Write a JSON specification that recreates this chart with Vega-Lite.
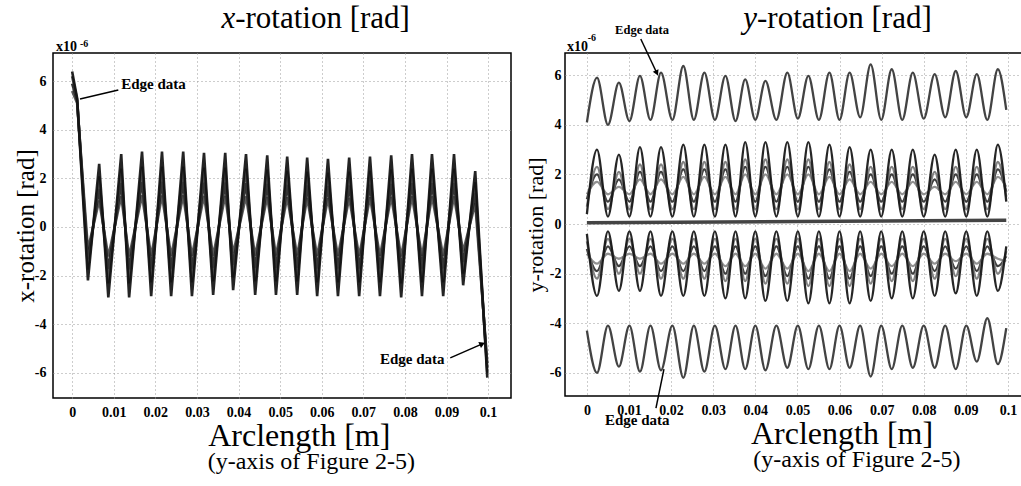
{
  "$schema": "https://vega.github.io/schema/vega-lite/v6.json",
  "background": "white",
  "padding": {"left": 12, "top": 2, "right": 0, "bottom": 0},
  "spacing": 11,
  "config": {
    "font": "Liberation Serif",
    "view": {"stroke": "black", "strokeWidth": 1.5},
    "axis": {
      "grid": true, "gridColor": "#9a9a9a", "gridDash": [1, 3], "gridWidth": 1,
      "ticks": false, "domain": false,
      "labelFont": "Liberation Serif", "labelFontWeight": "bold", "labelFontSize": 14, "labelColor": "black",
      "labelPadding": 7,
      "titleFont": "Liberation Serif", "titleFontWeight": "normal", "titleColor": "black"
    },
    "text": {"font": "Liberation Serif", "color": "black"}
  },
  "resolve": {"scale": {"color": "independent"}},
  "datasets": {
    "left": [
      {"x": 0, "a": 6.4, "b": 6.2, "c": 5.9, "d": 5.6},
      {"x": 0.0012, "a": 5.3, "b": 5.25, "c": 5.2, "d": 5.1},
      {"x": 0.0038, "a": -2.2, "b": -1.76, "c": -1.32, "d": -0.92},
      {"x": 0.0065, "a": 2.6, "b": 2.08, "c": 1.56, "d": 1.09},
      {"x": 0.0087, "a": -2.9, "b": -2.32, "c": -1.74, "d": -1.22},
      {"x": 0.0118, "a": 3.0, "b": 2.4, "c": 1.8, "d": 1.26},
      {"x": 0.0137, "a": -2.9, "b": -2.32, "c": -1.74, "d": -1.22},
      {"x": 0.0168, "a": 3.1, "b": 2.48, "c": 1.86, "d": 1.3},
      {"x": 0.019, "a": -2.85, "b": -2.28, "c": -1.71, "d": -1.2},
      {"x": 0.0216, "a": 3.1, "b": 2.48, "c": 1.86, "d": 1.3},
      {"x": 0.0238, "a": -2.85, "b": -2.28, "c": -1.71, "d": -1.2},
      {"x": 0.0267, "a": 3.1, "b": 2.48, "c": 1.86, "d": 1.3},
      {"x": 0.0288, "a": -2.85, "b": -2.28, "c": -1.71, "d": -1.2},
      {"x": 0.0317, "a": 3.05, "b": 2.44, "c": 1.83, "d": 1.28},
      {"x": 0.0339, "a": -2.8, "b": -2.24, "c": -1.68, "d": -1.18},
      {"x": 0.0368, "a": 3.05, "b": 2.44, "c": 1.83, "d": 1.28},
      {"x": 0.0387, "a": -2.6, "b": -2.08, "c": -1.56, "d": -1.09},
      {"x": 0.0418, "a": 3.0, "b": 2.4, "c": 1.8, "d": 1.26},
      {"x": 0.044, "a": -2.8, "b": -2.24, "c": -1.68, "d": -1.18},
      {"x": 0.0469, "a": 2.95, "b": 2.36, "c": 1.77, "d": 1.24},
      {"x": 0.049, "a": -2.8, "b": -2.24, "c": -1.68, "d": -1.18},
      {"x": 0.0517, "a": 2.9, "b": 2.32, "c": 1.74, "d": 1.22},
      {"x": 0.0541, "a": -2.8, "b": -2.24, "c": -1.68, "d": -1.18},
      {"x": 0.0565, "a": 2.85, "b": 2.28, "c": 1.71, "d": 1.2},
      {"x": 0.0589, "a": -2.85, "b": -2.28, "c": -1.71, "d": -1.2},
      {"x": 0.0615, "a": 2.8, "b": 2.24, "c": 1.68, "d": 1.18},
      {"x": 0.0639, "a": -2.85, "b": -2.28, "c": -1.71, "d": -1.2},
      {"x": 0.0666, "a": 2.85, "b": 2.28, "c": 1.71, "d": 1.2},
      {"x": 0.069, "a": -2.85, "b": -2.28, "c": -1.71, "d": -1.2},
      {"x": 0.0716, "a": 2.9, "b": 2.32, "c": 1.74, "d": 1.22},
      {"x": 0.074, "a": -2.85, "b": -2.28, "c": -1.71, "d": -1.2},
      {"x": 0.0767, "a": 2.95, "b": 2.36, "c": 1.77, "d": 1.24},
      {"x": 0.0791, "a": -2.9, "b": -2.32, "c": -1.74, "d": -1.22},
      {"x": 0.0817, "a": 3.0, "b": 2.4, "c": 1.8, "d": 1.26},
      {"x": 0.0841, "a": -2.85, "b": -2.28, "c": -1.71, "d": -1.2},
      {"x": 0.0865, "a": 3.0, "b": 2.4, "c": 1.8, "d": 1.26},
      {"x": 0.0892, "a": -2.85, "b": -2.28, "c": -1.71, "d": -1.2},
      {"x": 0.0918, "a": 3.0, "b": 2.4, "c": 1.8, "d": 1.26},
      {"x": 0.094, "a": -2.4, "b": -1.92, "c": -1.44, "d": -1.01},
      {"x": 0.0969, "a": 2.3, "b": 1.84, "c": 1.38, "d": 0.97},
      {"x": 0.0998, "a": -6.2, "b": -6.0, "c": -5.8, "d": -5.6}
    ],
    "right": [
      {"x": 0, "T": 4.1, "U1": 0.4, "U2": 0.7, "U3": 1.0, "U4": 1.2, "D1": -0.4, "D2": -0.7, "D3": -1.0, "D4": -1.2, "B": -4.3},
      {"x": 0.0024, "T": 5.9, "U1": 3.0, "U2": 2.3, "U3": 2.0, "U4": 1.7, "D1": -2.9, "D2": -2.2, "D3": -1.9, "D4": -1.6, "B": -6.0},
      {"x": 0.005, "T": 4.0, "U1": 0.3, "U2": 0.6, "U3": 0.9, "U4": 1.2, "D1": -0.3, "D2": -0.6, "D3": -0.9, "D4": -1.2, "B": -4.1},
      {"x": 0.0076, "T": 5.7, "U1": 2.8, "U2": 2.1, "U3": 1.8, "U4": 1.5, "D1": -2.7, "D2": -2.0, "D3": -1.7, "D4": -1.4, "B": -5.75},
      {"x": 0.0101, "T": 4.15, "U1": 0.3, "U2": 0.6, "U3": 0.9, "U4": 1.2, "D1": -0.3, "D2": -0.6, "D3": -0.9, "D4": -1.2, "B": -4.1},
      {"x": 0.0126, "T": 5.97, "U1": 3.1, "U2": 2.4, "U3": 2.1, "U4": 1.8, "D1": -2.7, "D2": -2.0, "D3": -1.7, "D4": -1.4, "B": -5.95},
      {"x": 0.0151, "T": 4.2, "U1": 0.3, "U2": 0.6, "U3": 0.9, "U4": 1.2, "D1": -0.3, "D2": -0.6, "D3": -0.9, "D4": -1.2, "B": -4.1},
      {"x": 0.0176, "T": 6.1, "U1": 3.1, "U2": 2.4, "U3": 2.1, "U4": 1.8, "D1": -2.9, "D2": -2.2, "D3": -1.9, "D4": -1.6, "B": -5.9},
      {"x": 0.0203, "T": 4.2, "U1": 0.3, "U2": 0.6, "U3": 0.9, "U4": 1.2, "D1": -0.3, "D2": -0.6, "D3": -0.9, "D4": -1.2, "B": -4.1},
      {"x": 0.0229, "T": 6.37, "U1": 3.2, "U2": 2.5, "U3": 2.2, "U4": 1.9, "D1": -2.9, "D2": -2.2, "D3": -1.9, "D4": -1.6, "B": -6.2},
      {"x": 0.0254, "T": 4.2, "U1": 0.3, "U2": 0.6, "U3": 0.9, "U4": 1.2, "D1": -0.3, "D2": -0.6, "D3": -0.9, "D4": -1.2, "B": -4.1},
      {"x": 0.0279, "T": 6.1, "U1": 3.2, "U2": 2.5, "U3": 2.2, "U4": 1.9, "D1": -2.9, "D2": -2.2, "D3": -1.9, "D4": -1.6, "B": -5.95},
      {"x": 0.0304, "T": 4.2, "U1": 0.3, "U2": 0.6, "U3": 0.9, "U4": 1.2, "D1": -0.3, "D2": -0.6, "D3": -0.9, "D4": -1.2, "B": -4.1},
      {"x": 0.0329, "T": 5.97, "U1": 3.2, "U2": 2.5, "U3": 2.2, "U4": 1.9, "D1": -3.0, "D2": -2.3, "D3": -2.0, "D4": -1.7, "B": -5.85},
      {"x": 0.0353, "T": 4.15, "U1": 0.3, "U2": 0.6, "U3": 0.9, "U4": 1.2, "D1": -0.3, "D2": -0.6, "D3": -0.9, "D4": -1.2, "B": -4.1},
      {"x": 0.0376, "T": 5.83, "U1": 3.3, "U2": 2.6, "U3": 2.3, "U4": 2.0, "D1": -3.0, "D2": -2.3, "D3": -2.0, "D4": -1.7, "B": -5.85},
      {"x": 0.04, "T": 4.2, "U1": 0.3, "U2": 0.6, "U3": 0.9, "U4": 1.2, "D1": -0.3, "D2": -0.6, "D3": -0.9, "D4": -1.2, "B": -4.1},
      {"x": 0.0424, "T": 5.77, "U1": 3.3, "U2": 2.6, "U3": 2.3, "U4": 2.0, "D1": -3.1, "D2": -2.4, "D3": -2.1, "D4": -1.8, "B": -5.9},
      {"x": 0.045, "T": 4.2, "U1": 0.3, "U2": 0.6, "U3": 0.9, "U4": 1.2, "D1": -0.3, "D2": -0.6, "D3": -0.9, "D4": -1.2, "B": -4.1},
      {"x": 0.0476, "T": 6.1, "U1": 3.3, "U2": 2.6, "U3": 2.3, "U4": 2.0, "D1": -3.1, "D2": -2.4, "D3": -2.1, "D4": -1.8, "B": -5.8},
      {"x": 0.0501, "T": 4.25, "U1": 0.3, "U2": 0.6, "U3": 0.9, "U4": 1.2, "D1": -0.3, "D2": -0.6, "D3": -0.9, "D4": -1.2, "B": -4.1},
      {"x": 0.0526, "T": 5.97, "U1": 3.3, "U2": 2.6, "U3": 2.3, "U4": 2.0, "D1": -3.2, "D2": -2.5, "D3": -2.2, "D4": -1.9, "B": -5.85},
      {"x": 0.0551, "T": 4.2, "U1": 0.3, "U2": 0.6, "U3": 0.9, "U4": 1.2, "D1": -0.3, "D2": -0.6, "D3": -0.9, "D4": -1.2, "B": -4.1},
      {"x": 0.0576, "T": 6.1, "U1": 3.2, "U2": 2.5, "U3": 2.2, "U4": 1.9, "D1": -3.2, "D2": -2.5, "D3": -2.2, "D4": -1.9, "B": -5.85},
      {"x": 0.06, "T": 4.2, "U1": 0.3, "U2": 0.6, "U3": 0.9, "U4": 1.2, "D1": -0.3, "D2": -0.6, "D3": -0.9, "D4": -1.2, "B": -4.1},
      {"x": 0.0624, "T": 6.1, "U1": 3.1, "U2": 2.4, "U3": 2.1, "U4": 1.8, "D1": -3.2, "D2": -2.5, "D3": -2.2, "D4": -1.9, "B": -5.8},
      {"x": 0.0649, "T": 4.3, "U1": 0.3, "U2": 0.6, "U3": 0.9, "U4": 1.2, "D1": -0.3, "D2": -0.6, "D3": -0.9, "D4": -1.2, "B": -4.1},
      {"x": 0.0674, "T": 6.44, "U1": 3.0, "U2": 2.3, "U3": 2.0, "U4": 1.7, "D1": -3.1, "D2": -2.4, "D3": -2.1, "D4": -1.8, "B": -6.15},
      {"x": 0.0699, "T": 4.2, "U1": 0.3, "U2": 0.6, "U3": 0.9, "U4": 1.2, "D1": -0.3, "D2": -0.6, "D3": -0.9, "D4": -1.2, "B": -4.1},
      {"x": 0.0724, "T": 6.24, "U1": 3.0, "U2": 2.3, "U3": 2.0, "U4": 1.7, "D1": -3.0, "D2": -2.3, "D3": -2.0, "D4": -1.7, "B": -5.85},
      {"x": 0.0749, "T": 4.2, "U1": 0.3, "U2": 0.6, "U3": 0.9, "U4": 1.2, "D1": -0.3, "D2": -0.6, "D3": -0.9, "D4": -1.2, "B": -4.1},
      {"x": 0.0774, "T": 6.1, "U1": 3.0, "U2": 2.3, "U3": 2.0, "U4": 1.7, "D1": -3.0, "D2": -2.3, "D3": -2.0, "D4": -1.7, "B": -5.8},
      {"x": 0.08, "T": 4.25, "U1": 0.3, "U2": 0.6, "U3": 0.9, "U4": 1.2, "D1": -0.3, "D2": -0.6, "D3": -0.9, "D4": -1.2, "B": -4.1},
      {"x": 0.0826, "T": 6.04, "U1": 2.8, "U2": 2.1, "U3": 1.8, "U4": 1.5, "D1": -2.9, "D2": -2.2, "D3": -1.9, "D4": -1.6, "B": -5.8},
      {"x": 0.0851, "T": 4.3, "U1": 0.3, "U2": 0.6, "U3": 0.9, "U4": 1.2, "D1": -0.3, "D2": -0.6, "D3": -0.9, "D4": -1.2, "B": -4.1},
      {"x": 0.0876, "T": 6.17, "U1": 3.0, "U2": 2.3, "U3": 2.0, "U4": 1.7, "D1": -2.8, "D2": -2.1, "D3": -1.8, "D4": -1.5, "B": -5.85},
      {"x": 0.0901, "T": 4.3, "U1": 0.3, "U2": 0.6, "U3": 0.9, "U4": 1.2, "D1": -0.3, "D2": -0.6, "D3": -0.9, "D4": -1.2, "B": -4.1},
      {"x": 0.0926, "T": 6.04, "U1": 3.0, "U2": 2.3, "U3": 2.0, "U4": 1.7, "D1": -2.9, "D2": -2.2, "D3": -1.9, "D4": -1.6, "B": -5.55},
      {"x": 0.0951, "T": 4.2, "U1": 0.3, "U2": 0.6, "U3": 0.9, "U4": 1.2, "D1": -0.3, "D2": -0.6, "D3": -0.9, "D4": -1.2, "B": -3.8},
      {"x": 0.0976, "T": 6.24, "U1": 3.2, "U2": 2.5, "U3": 2.2, "U4": 1.9, "D1": -2.7, "D2": -2.0, "D3": -1.7, "D4": -1.4, "B": -5.65},
      {"x": 0.0996, "T": 4.6, "U1": 0.9, "U2": 1.1, "U3": 1.3, "U4": 1.5, "D1": -0.9, "D2": -1.1, "D3": -1.3, "D4": -1.5, "B": -4.2}
    ],
    "flat": [{"x": 0, "y": 0.05}, {"x": 0.05, "y": 0.1}, {"x": 0.0996, "y": 0.15}]
  },
  "hconcat": [
    {
      "width": 458,
      "height": 345,
      "encoding": {
        "x": {"field": "x", "type": "quantitative",
              "scale": {"domain": [-0.0046, 0.1055], "nice": false, "zero": false},
              "axis": {"values": [0, 0.01, 0.02, 0.03, 0.04, 0.05, 0.06, 0.07, 0.08, 0.09, 0.1], "labelExpr": "'' + datum.value", "title": null}},
        "y": {"field": "y", "type": "quantitative",
              "scale": {"domain": [-7.04, 7.16], "nice": false, "zero": false},
              "axis": {"values": [-6, -4, -2, 0, 2, 4, 6], "labelExpr": "'' + datum.value", "title": "x-rotation [rad]", "titleFontSize": 25, "titlePadding": -4}}
      },
      "layer": [
        {
          "data": {"name": "left"},
          "transform": [{"fold": ["d", "c", "b", "a"], "as": ["curve", "y"]}],
          "mark": {"type": "line", "strokeWidth": 2.6, "opacity": 0.92},
          "encoding": {
            "color": {"field": "curve", "type": "nominal", "legend": null,
                      "scale": {"domain": ["a", "b", "c", "d"], "range": ["#111111", "#3a3a3a", "#222222", "#4a4a4a"]}}
          }
        },
        {
          "data": {"values": [{"x": 0.0019, "y": 5.27, "x2": 0.0111, "y2": 5.64}, {"x": 0.0909, "y": -5.39, "x2": 0.0986, "y2": -4.81}]},
          "mark": {"type": "rule", "color": "black", "strokeWidth": 1.5},
          "encoding": {"x2": {"field": "x2"}, "y2": {"field": "y2"}}
        },
        {
          "data": {"values": [{"x": 0.0986, "y": -4.81}]},
          "mark": {"type": "point", "shape": "triangle-right", "filled": true, "color": "black", "size": 45, "angle": -23.6, "opacity": 1},
          "encoding": {}
        },
        {
          "data": {"values": [{"x": 0.0118, "y": 5.88, "t": "Edge data"}, {"x": 0.074, "y": -5.43, "t": "Edge data"}]},
          "mark": {"type": "text", "fontSize": 15, "fontWeight": "bold", "align": "left", "baseline": "middle"},
          "encoding": {"text": {"field": "t"}}
        },
        {
          "data": {"values": [{"x": -0.00385, "y": 7.24, "t": "x10"}]},
          "mark": {"type": "text", "fontSize": 14, "fontWeight": "bold", "align": "left", "baseline": "alphabetic"},
          "encoding": {"text": {"field": "t"}}
        },
        {
          "data": {"values": [{"x": 0.0019, "y": 7.42, "t": "-6"}]},
          "mark": {"type": "text", "fontSize": 10, "fontWeight": "bold", "align": "left", "baseline": "alphabetic"},
          "encoding": {"text": {"field": "t"}}
        },
        {
          "data": {"values": [{"x": 0.0392, "y": 8.19, "t": "x"}]},
          "mark": {"type": "text", "fontSize": 31, "fontStyle": "italic", "align": "right", "baseline": "alphabetic"},
          "encoding": {"text": {"field": "t"}}
        },
        {
          "data": {"values": [{"x": 0.0392, "y": 8.19, "t": "-rotation [rad]"}]},
          "mark": {"type": "text", "fontSize": 31, "align": "left", "baseline": "alphabetic"},
          "encoding": {"text": {"field": "t"}}
        },
        {
          "data": {"values": [{"x": 0.0546, "y": -9.01, "t": "Arclength [m]"}]},
          "mark": {"type": "text", "fontSize": 32, "align": "center", "baseline": "alphabetic"},
          "encoding": {"text": {"field": "t"}}
        },
        {
          "data": {"values": [{"x": 0.0575, "y": -9.96, "t": "(y-axis of Figure 2-5)"}]},
          "mark": {"type": "text", "fontSize": 24, "align": "center", "baseline": "alphabetic"},
          "encoding": {"text": {"field": "t"}}
        }
      ]
    },
    {
      "width": 464,
      "height": 343,
      "encoding": {
        "x": {"field": "x", "type": "quantitative",
              "scale": {"domain": [-0.0052, 0.105], "nice": false, "zero": false},
              "axis": {"values": [0, 0.01, 0.02, 0.03, 0.04, 0.05, 0.06, 0.07, 0.08, 0.09, 0.1], "labelExpr": "'' + datum.value", "title": null}},
        "y": {"field": "y", "type": "quantitative",
              "scale": {"domain": [-6.935, 6.895], "nice": false, "zero": false},
              "axis": {"values": [-6, -4, -2, 0, 2, 4, 6], "labelExpr": "'' + datum.value", "title": "y-rotation [rad]", "titleFontSize": 22, "titlePadding": 2, "labelPadding": 4}}
      },
      "layer": [
        {
          "data": {"name": "flat"},
          "mark": {"type": "line", "strokeWidth": 3.5, "color": "#444444"},
          "encoding": {}
        },
        {
          "data": {"name": "right"},
          "transform": [{"fold": ["U4", "D4", "U3", "D3", "U2", "D2", "U1", "D1", "T", "B"], "as": ["curve", "y"]}],
          "mark": {"type": "line", "strokeWidth": 2.3, "interpolate": "monotone", "opacity": 0.92},
          "encoding": {
            "color": {"field": "curve", "type": "nominal", "legend": null,
                      "scale": {"domain": ["T", "U1", "U2", "U3", "U4", "D1", "D2", "D3", "D4", "B"],
                                "range": ["#333333", "#141414", "#777777", "#2e2e2e", "#888888", "#141414", "#777777", "#2e2e2e", "#888888", "#333333"]}}
          }
        },
        {
          "data": {"values": [{"x": 0.0128, "y": 7.46, "x2": 0.0166, "y2": 6.09}, {"x": 0.0164, "y": -7.42, "x2": 0.0183, "y2": -5.85}]},
          "mark": {"type": "rule", "color": "black", "strokeWidth": 1.5},
          "encoding": {"x2": {"field": "x2"}, "y2": {"field": "y2"}}
        },
        {
          "data": {"values": [{"x": 0.0166, "y": 6.09}]},
          "mark": {"type": "point", "shape": "triangle-right", "filled": true, "color": "black", "size": 40, "angle": 64.8, "opacity": 1},
          "encoding": {}
        },
        {
          "data": {"values": [{"x": 0.0067, "y": 7.82, "t": "Edge data"}]},
          "mark": {"type": "text", "fontSize": 12.5, "fontWeight": "bold", "align": "left", "baseline": "middle"},
          "encoding": {"text": {"field": "t"}}
        },
        {
          "data": {"values": [{"x": 0.0043, "y": -7.9, "t": "Edge data"}]},
          "mark": {"type": "text", "fontSize": 15, "fontWeight": "bold", "align": "left", "baseline": "middle"},
          "encoding": {"text": {"field": "t"}}
        },
        {
          "data": {"values": [{"x": -0.00475, "y": 6.98, "t": "x10"}]},
          "mark": {"type": "text", "fontSize": 14, "fontWeight": "bold", "align": "left", "baseline": "alphabetic"},
          "encoding": {"text": {"field": "t"}}
        },
        {
          "data": {"values": [{"x": 0.0002, "y": 7.36, "t": "-6"}]},
          "mark": {"type": "text", "fontSize": 10, "fontWeight": "bold", "align": "left", "baseline": "alphabetic"},
          "encoding": {"text": {"field": "t"}}
        },
        {
          "data": {"values": [{"x": 0.0404, "y": 7.9, "t": "y"}]},
          "mark": {"type": "text", "fontSize": 31, "fontStyle": "italic", "align": "right", "baseline": "alphabetic"},
          "encoding": {"text": {"field": "t"}}
        },
        {
          "data": {"values": [{"x": 0.0404, "y": 7.9, "t": "-rotation [rad]"}]},
          "mark": {"type": "text", "fontSize": 31, "align": "left", "baseline": "alphabetic"},
          "encoding": {"text": {"field": "t"}}
        },
        {
          "data": {"values": [{"x": 0.0606, "y": -8.87, "t": "Arclength [m]"}]},
          "mark": {"type": "text", "fontSize": 32, "align": "center", "baseline": "alphabetic"},
          "encoding": {"text": {"field": "t"}}
        },
        {
          "data": {"values": [{"x": 0.0641, "y": -9.8, "t": "(y-axis of Figure 2-5)"}]},
          "mark": {"type": "text", "fontSize": 24, "align": "center", "baseline": "alphabetic"},
          "encoding": {"text": {"field": "t"}}
        }
      ]
    }
  ]
}
